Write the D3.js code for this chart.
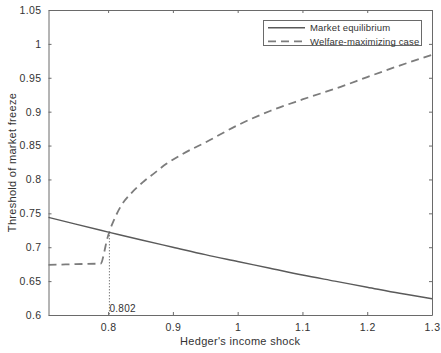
<!DOCTYPE html>
<html lang="en">
  <head>
    <meta charset="UTF-8" />
    <title>Threshold of market freeze</title>
    <script src="https://d3js.org/d3.v7.min.js"></script>
    <style>
      body { margin: 0; background: #fff; }
      text { font-family: 'Liberation Sans', Arial, sans-serif; fill: #333; }
    </style>
  </head>
  <body>
    <div id="chart"></div>
    <script>
      // income shock vs threshold
      const marketEq = [
        [0.708, 0.744], [0.75, 0.734], [0.802, 0.722], [0.85, 0.711], [0.9, 0.700],
        [0.95, 0.689], [1.0, 0.679], [1.05, 0.669], [1.1, 0.659], [1.15, 0.650],
        [1.2, 0.641], [1.25, 0.632], [1.3, 0.624]
      ]
      const welfare = [
        [0.708, 0.674], [0.75, 0.675], [0.789, 0.676], [0.792, 0.684], [0.795, 0.697],
        [0.798, 0.710], [0.802, 0.723], [0.809, 0.740], [0.82, 0.761], [0.835, 0.779],
        [0.855, 0.797], [0.871, 0.809], [0.89, 0.823], [0.912, 0.836], [0.953, 0.856],
        [1.0, 0.880], [1.05, 0.901], [1.1, 0.918], [1.16, 0.937], [1.2, 0.951],
        [1.25, 0.968], [1.3, 0.984]
      ]
      const xTicks = [0.8, 0.9, 1, 1.1, 1.2, 1.3]
      const yTicks = [0.6, 0.65, 0.7, 0.75, 0.8, 0.85, 0.9, 0.95, 1, 1.05]
      const crossX = 0.802
      const crossY = 0.722
      const legendNames = ['Market equilibrium', 'Welfare-maximizing case']

      const width = 441
      const height = 353
      const m = { left: 48.5, right: 432, top: 10, bottom: 315 }

      const svg = d3.select('#chart').append('svg')
        .attr('width', width).attr('height', height)

      const x = d3.scaleLinear().domain([0.708, 1.3]).range([m.left, m.right])
      const y = d3.scaleLinear().domain([0.6, 1.05]).range([m.bottom, m.top])

      const fmt = d => String(+d.toFixed(2))
      const axisColor = '#6a6a6a'

      function styleAxis(g) {
        g.selectAll('path, line').attr('stroke', axisColor)
        g.selectAll('text').attr('font-size', '10.5px').attr('fill', '#333')
          .attr('letter-spacing', '0.4px')
      }

      svg.append('g').attr('transform', `translate(0,${m.bottom})`)
        .call(d3.axisBottom(x).tickValues(xTicks).tickFormat(fmt).tickSizeInner(-3).tickSizeOuter(0).tickPadding(9))
        .call(styleAxis)
      svg.append('g').attr('transform', `translate(0,${m.top})`)
        .call(d3.axisTop(x).tickValues(xTicks).tickFormat('').tickSizeInner(-3).tickSizeOuter(0))
        .call(styleAxis)
      svg.append('g').attr('transform', `translate(${m.left},0)`)
        .call(d3.axisLeft(y).tickValues(yTicks).tickFormat(fmt).tickSizeInner(-3).tickSizeOuter(0).tickPadding(7))
        .call(styleAxis)
      svg.append('g').attr('transform', `translate(${m.right},0)`)
        .call(d3.axisRight(y).tickValues(yTicks).tickFormat('').tickSizeInner(-3).tickSizeOuter(0))
        .call(styleAxis)

      const line = d3.line().x(d => x(d[0])).y(d => y(d[1])).curve(d3.curveMonotoneX)

      svg.append('path').datum(marketEq).attr('d', line)
        .attr('fill', 'none').attr('stroke', '#5a5a5a').attr('stroke-width', 1.4)
      svg.append('path').datum(welfare).attr('d', line)
        .attr('fill', 'none').attr('stroke', '#7c7c7c').attr('stroke-width', 1.8)
        .attr('stroke-dasharray', '8,5')

      svg.append('line')
        .attr('x1', x(crossX)).attr('x2', x(crossX))
        .attr('y1', y(crossY)).attr('y2', y(0.6))
        .attr('stroke', '#444').attr('stroke-width', 1).attr('stroke-dasharray', '1,2')
      svg.append('text').attr('x', x(crossX)).attr('y', m.bottom - 3)
        .attr('font-size', '10px').attr('letter-spacing', '0.3px').text(String(crossX))

      // legend
      const lg = svg.append('g')
      lg.append('rect').attr('x', 263.5).attr('y', 20.5).attr('width', 158).attr('height', 25)
        .attr('fill', '#fff').attr('stroke', axisColor)
      legendNames.forEach((name, i) => {
        const ly = 27.7 + i * 13.6
        lg.append('line').attr('x1', 268).attr('x2', 305).attr('y1', ly).attr('y2', ly)
          .attr('stroke', i ? '#7c7c7c' : '#5a5a5a')
          .attr('stroke-width', i ? 1.8 : 1.4)
          .attr('stroke-dasharray', i ? '8,5' : null)
        lg.append('text').attr('x', 310).attr('y', ly + 3.5).attr('font-size', '9.5px')
          .attr('letter-spacing', '0.15px').text(name)
      })

      svg.append('text').attr('x', (m.left + m.right) / 2).attr('y', 345)
        .attr('text-anchor', 'middle').attr('font-size', '11px').attr('letter-spacing', '0.3px')
        .text("Hedger's income shock")
      svg.append('text').attr('transform', `translate(16,${(m.top + m.bottom) / 2}) rotate(-90)`)
        .attr('text-anchor', 'middle').attr('font-size', '11px').attr('letter-spacing', '0.3px')
        .text('Threshold of market freeze')
    </script>
  </body>
</html>
